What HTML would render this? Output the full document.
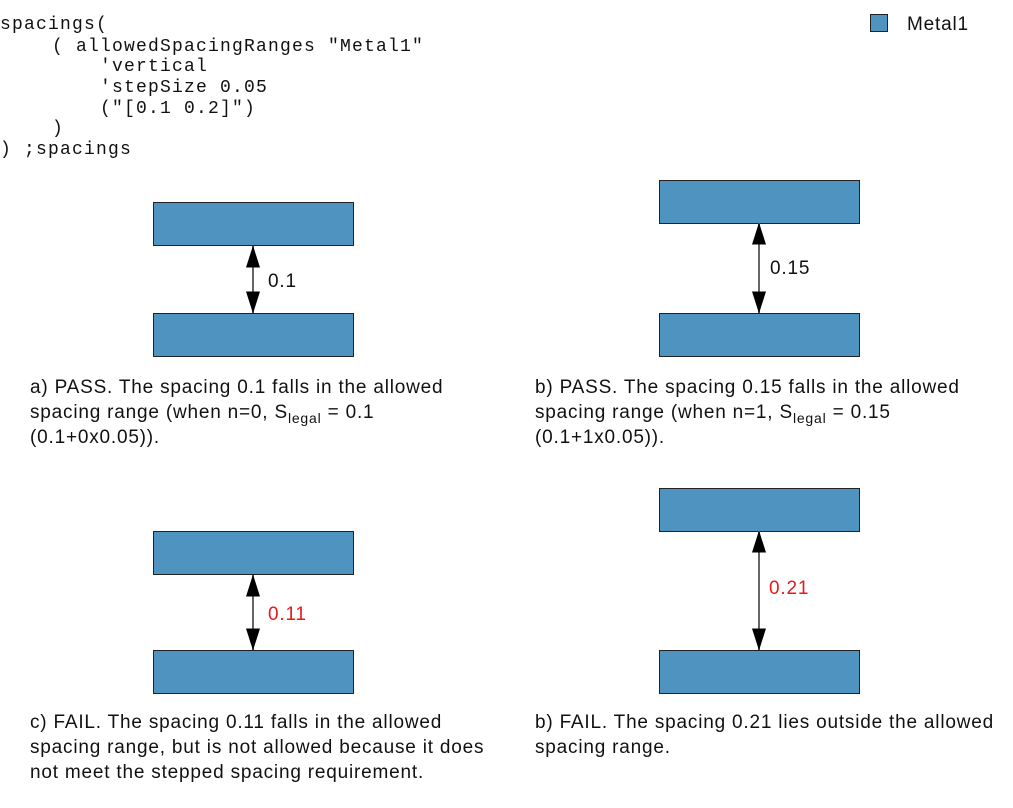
<!DOCTYPE html>
<html><head><meta charset="utf-8"><style>
html,body{margin:0;padding:0;background:#fff;}
svg{display:block;}
.code{font-family:"Liberation Mono",monospace;font-size:18px;letter-spacing:1.2px;fill:#111;}
.t{font-family:"Liberation Sans",sans-serif;font-size:19px;letter-spacing:0.8px;fill:#111;}
.r{fill:#4f93c1;stroke:#222;stroke-width:1;}
</style></head><body>
<svg width="1013" height="808" viewBox="0 0 1013 808" xmlns="http://www.w3.org/2000/svg">
<defs>
<marker id="ah" viewBox="0 0 22 14" refX="21.5" refY="7" markerWidth="22" markerHeight="14" markerUnits="userSpaceOnUse" orient="auto-start-reverse">
<path d="M0,0 L22,7 L0,14 Z" fill="#000"/></marker>
</defs>
<g class="code">
<text x="0" y="29">spacings(</text>
<text x="52" y="51">( allowedSpacingRanges "Metal1"</text>
<text x="100" y="71">'vertical</text>
<text x="100" y="92">'stepSize 0.05</text>
<text x="100" y="113">("[0.1 0.2]")</text>
<text x="52" y="133">)</text>
<text x="0" y="154">) ;spacings</text>
</g>
<rect class="r" x="870.5" y="14.5" width="17" height="17"/>
<text class="t" x="907" y="30">Metal1</text>

<rect class="r" x="153.5" y="202.5" width="200" height="43"/>
<rect class="r" x="153.5" y="313.5" width="200" height="43"/>
<line x1="253" y1="246" x2="253" y2="313" stroke="#666" stroke-width="2" marker-start="url(#ah)" marker-end="url(#ah)"/>
<text class="t" x="268" y="287">0.1</text>

<rect class="r" x="659.5" y="180.5" width="200" height="43"/>
<rect class="r" x="659.5" y="313.5" width="200" height="43"/>
<line x1="759" y1="223" x2="759" y2="313" stroke="#666" stroke-width="2" marker-start="url(#ah)" marker-end="url(#ah)"/>
<text class="t" x="770" y="274">0.15</text>

<rect class="r" x="153.5" y="531.5" width="200" height="43"/>
<rect class="r" x="153.5" y="650.5" width="200" height="43"/>
<line x1="253" y1="575" x2="253" y2="650" stroke="#666" stroke-width="2" marker-start="url(#ah)" marker-end="url(#ah)"/>
<text class="t" x="268" y="620" style="fill:#e8191c">0.11</text>

<rect class="r" x="659.5" y="488.5" width="200" height="43"/>
<rect class="r" x="659.5" y="650.5" width="200" height="43"/>
<line x1="759" y1="531" x2="759" y2="650" stroke="#666" stroke-width="2" marker-start="url(#ah)" marker-end="url(#ah)"/>
<text class="t" x="769" y="594" style="fill:#e8191c">0.21</text>

<text class="t" x="30" y="393">a) PASS. The spacing 0.1 falls in the allowed</text>
<text class="t" x="30" y="418">spacing range (when n=0, S<tspan font-size="14" dy="5">legal</tspan><tspan dy="-5"> = 0.1</tspan></text>
<text class="t" x="30" y="443">(0.1+0x0.05)).</text>

<text class="t" x="535" y="393">b) PASS. The spacing 0.15 falls in the allowed</text>
<text class="t" x="535" y="418">spacing range (when n=1, S<tspan font-size="14" dy="5">legal</tspan><tspan dy="-5"> = 0.15</tspan></text>
<text class="t" x="535" y="443">(0.1+1x0.05)).</text>

<text class="t" x="30" y="728">c) FAIL. The spacing 0.11 falls in the allowed</text>
<text class="t" x="30" y="753">spacing range, but is not allowed because it does</text>
<text class="t" x="30" y="778">not meet the stepped spacing requirement.</text>

<text class="t" x="535" y="728">b) FAIL. The spacing 0.21 lies outside the allowed</text>
<text class="t" x="535" y="753">spacing range.</text>
</svg>
</body></html>
